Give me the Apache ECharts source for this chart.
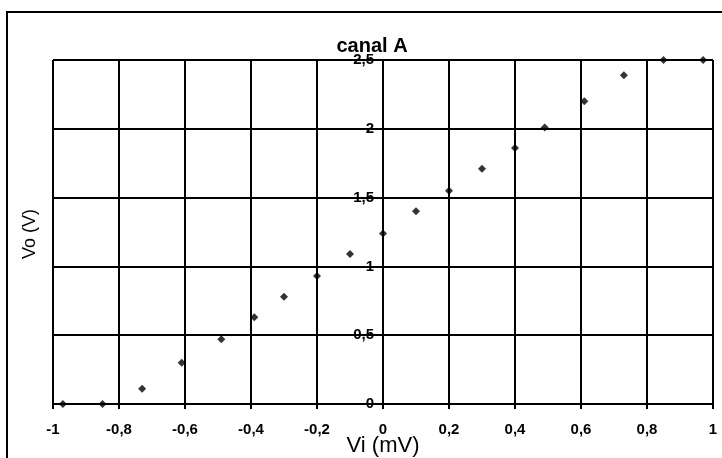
<!DOCTYPE html>
<html>
<head>
<meta charset="utf-8">
<script src="https://cdn.jsdelivr.net/npm/echarts@6/dist/echarts.min.js"></script>
<style>
  html, body { margin: 0; padding: 0; background: #fff; }
  #main { width: 722px; height: 458px; }
</style>
</head>
<body>
<div id="main"></div>
<script>
// Vi (mV) / Vo (V)
var vi = [-0.97, -0.85, -0.73, -0.61, -0.49, -0.39, -0.3, -0.2, -0.1, 0, 0.1, 0.2, 0.3, 0.4, 0.49, 0.61, 0.73, 0.85, 0.97];
var vo = [0, 0, 0.11, 0.3, 0.47, 0.63, 0.78, 0.93, 1.09, 1.24, 1.4, 1.55, 1.71, 1.86, 2.01, 2.2, 2.39, 2.5, 2.5];

var titleText = 'canal A';
var xName = 'Vi (mV)';
var yName = 'Vo (V)';

var points = [];
for (var i = 0; i < vi.length; i++) {
    points.push([vi[i], vo[i]]);
}

// virgule décimale
function comma(v) {
    return String(v).replace('.', ',');
}

var font = '"Liberation Sans", Arial, sans-serif';
var myChart = echarts.init(document.getElementById('main'));

var option = {
    backgroundColor: '#fff',
    animation: false,
    title: {
        text: titleText,
        left: 367,
        top: 31,
        textAlign: 'center',
        textStyle: { color: '#000', fontFamily: font, fontSize: 20, fontWeight: 'bold' }
    },
    graphic: [{
        type: 'rect',
        shape: { x: 7, y: 12, width: 730, height: 460 },
        style: { fill: 'none', stroke: '#000', lineWidth: 2 }
    }, {
        type: 'text',
        x: 30,
        y: 234,
        rotation: Math.PI / 2,
        style: {
            text: yName,
            fill: '#000',
            font: '18px ' + font,
            align: 'center',
            verticalAlign: 'middle'
        }
    }],
    grid: { left: 53, right: 9, top: 60, bottom: 54, outerBoundsMode: 'none' },
    xAxis: {
        type: 'value',
        min: -1,
        max: 1,
        interval: 0.2,
        name: xName,
        nameLocation: 'middle',
        nameGap: 31,
        nameMoveOverlap: false,
        nameTextStyle: { color: '#000', fontFamily: font, fontSize: 22 },
        axisLine: { lineStyle: { color: '#000', width: 2 } },
        axisTick: { show: true, length: 5, lineStyle: { color: '#000', width: 2 } },
        axisLabel: {
            color: '#000', fontFamily: font, fontSize: 15, fontWeight: 'bold', margin: 18,
            formatter: function (v) { return comma(Math.round(v * 10) / 10); }
        },
        splitLine: { show: true, lineStyle: { color: '#000', width: 2 } }
    },
    yAxis: {
        type: 'value',
        min: 0,
        max: 2.5,
        interval: 0.5,
        // l'axe Y passe par Vi = 0 (milieu de la grille)
        offset: -330,
        axisLine: { onZero: false, lineStyle: { color: '#000', width: 2 } },
        axisTick: { show: true, length: 4, lineStyle: { color: '#000', width: 2 } },
        axisLabel: {
            color: '#000', fontFamily: font, fontSize: 15, fontWeight: 'bold', margin: 9,
            formatter: function (v) { return comma(v); }
        },
        splitLine: { show: true, lineStyle: { color: '#000', width: 2 } }
    },
    series: [{
        name: titleText,
        type: 'scatter',
        data: points,
        symbol: 'diamond',
        symbolSize: 8,
        itemStyle: { color: '#000' }
    }]
};

myChart.setOption(option);
window.addEventListener('resize', function () {
    myChart.resize();
});
</script>
</body>
</html>
